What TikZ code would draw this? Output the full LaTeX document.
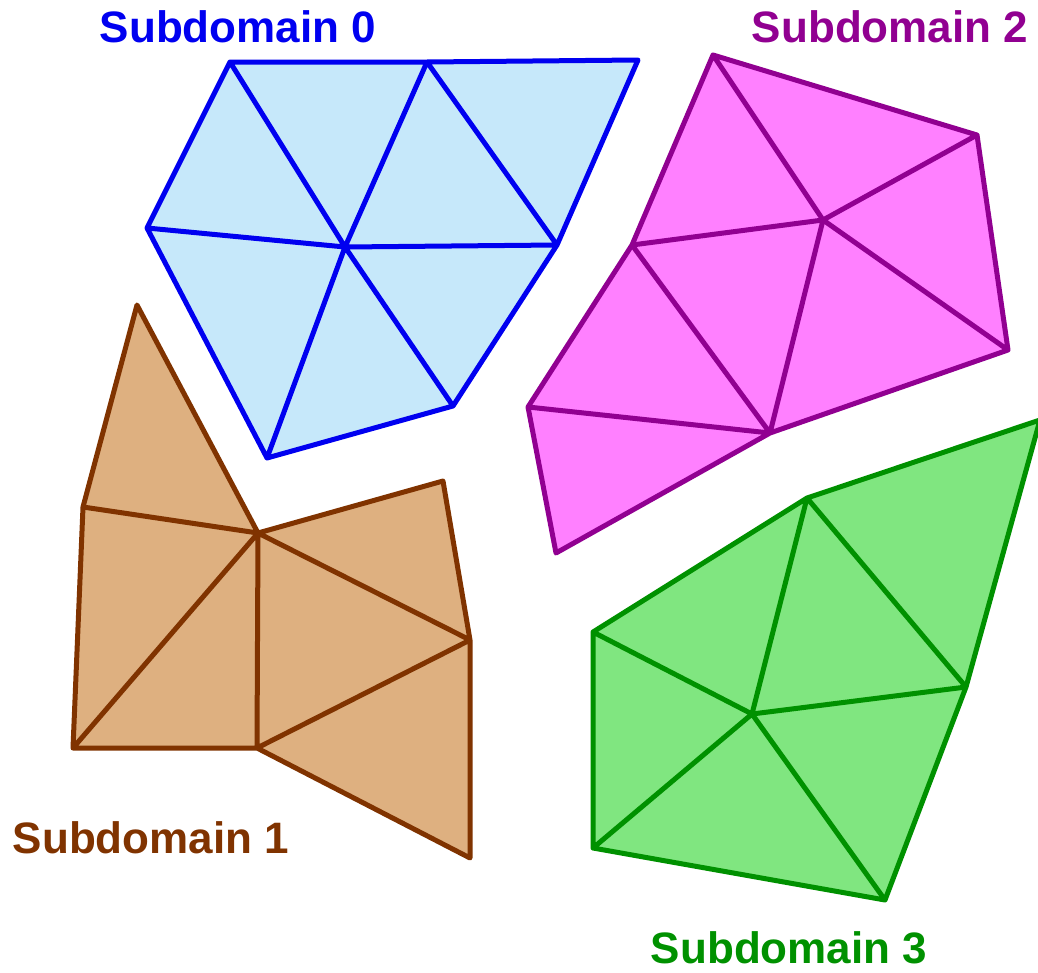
\documentclass[tikz,border=0pt]{standalone}
\usepackage{fontspec}
\setmainfont{Liberation Sans}
\begin{document}
\begin{tikzpicture}[x=1pt,y=-1pt,
  edge/.style={line width=5pt,line join=round,line cap=round},
  lbl/.style={anchor=base,font=\bfseries\fontsize{44}{52}\selectfont,inner sep=0pt}]
\definecolor{bfill}{RGB}{198,232,250}\definecolor{bline}{RGB}{0,0,240}
\definecolor{mfill}{RGB}{255,128,255}\definecolor{mline}{RGB}{145,0,145}
\definecolor{rfill}{RGB}{222,176,128}\definecolor{rline}{RGB}{128,51,0}
\definecolor{gfill}{RGB}{128,230,128}\definecolor{gline}{RGB}{0,145,0}
\useasboundingbox (0,0) rectangle (1038,972);
% Subdomain 0
\coordinate (A) at (230,62); \coordinate (B) at (427,62); \coordinate (C) at (638,60);
\coordinate (D) at (147,228); \coordinate (E) at (345,247); \coordinate (F) at (557,245);
\coordinate (G) at (267,458); \coordinate (H) at (453,406);
\fill[bfill] (A)--(C)--(F)--(H)--(G)--(D)--cycle;
\draw[edge,bline] (A)--(B)--(C)--(F)--(H)--(G)--(D)--cycle
  (A)--(E) (B)--(E) (B)--(F) (D)--(E)--(F) (E)--(G) (E)--(H);
% Subdomain 2
\coordinate (P) at (713,55); \coordinate (Q) at (977,135); \coordinate (R) at (823,220);
\coordinate (S) at (632,245); \coordinate (T) at (1008,350); \coordinate (U) at (528,407);
\coordinate (V) at (770,433); \coordinate (W) at (556,553);
\fill[mfill] (P)--(Q)--(T)--(V)--(W)--(U)--(S)--cycle;
\draw[edge,mline] (P)--(Q)--(T)--(V)--(W)--(U)--(S)--cycle
  (P)--(R) (Q)--(R) (R)--(S) (R)--(T) (R)--(V) (S)--(V) (U)--(V);
% Subdomain 1
\coordinate (a) at (137,305); \coordinate (b) at (83,507); \coordinate (c) at (258,533);
\coordinate (d) at (443,481); \coordinate (e) at (470,640); \coordinate (f) at (73,748);
\coordinate (g) at (257,748); \coordinate (h) at (470,858);
\fill[rfill] (a)--(c)--(d)--(e)--(h)--(g)--(f)--(b)--cycle;
\draw[edge,rline] (a)--(c)--(d)--(e)--(h)--(g)--(f)--(b)--cycle
  (b)--(c) (c)--(f) (c)--(g) (c)--(e) (g)--(e);
% Subdomain 3
\coordinate (k) at (807,498); \coordinate (l) at (1040,420); \coordinate (m) at (593,632);
\coordinate (n) at (966,687); \coordinate (o) at (752,714); \coordinate (p) at (593,848);
\coordinate (q) at (885,900);
\fill[gfill] (k)--(l)--(n)--(q)--(p)--(m)--cycle;
\draw[edge,gline] (k)--(l)--(n)--(q)--(p)--(m)--cycle
  (k)--(n) (k)--(o) (o)--(n) (m)--(o) (o)--(p) (o)--(q);
% Labels
\node[lbl,text=bline] (L0) at (238,42) {Subdomain 0};
\node[lbl,text=mline] (L2) at (890,42) {Subdomain 2};
\node[lbl,text=rline] (L1) at (151,853) {Subdomain 1};
\node[lbl,text=gline] (L3) at (789,963) {Subdomain 3};
\end{tikzpicture}
\end{document}
